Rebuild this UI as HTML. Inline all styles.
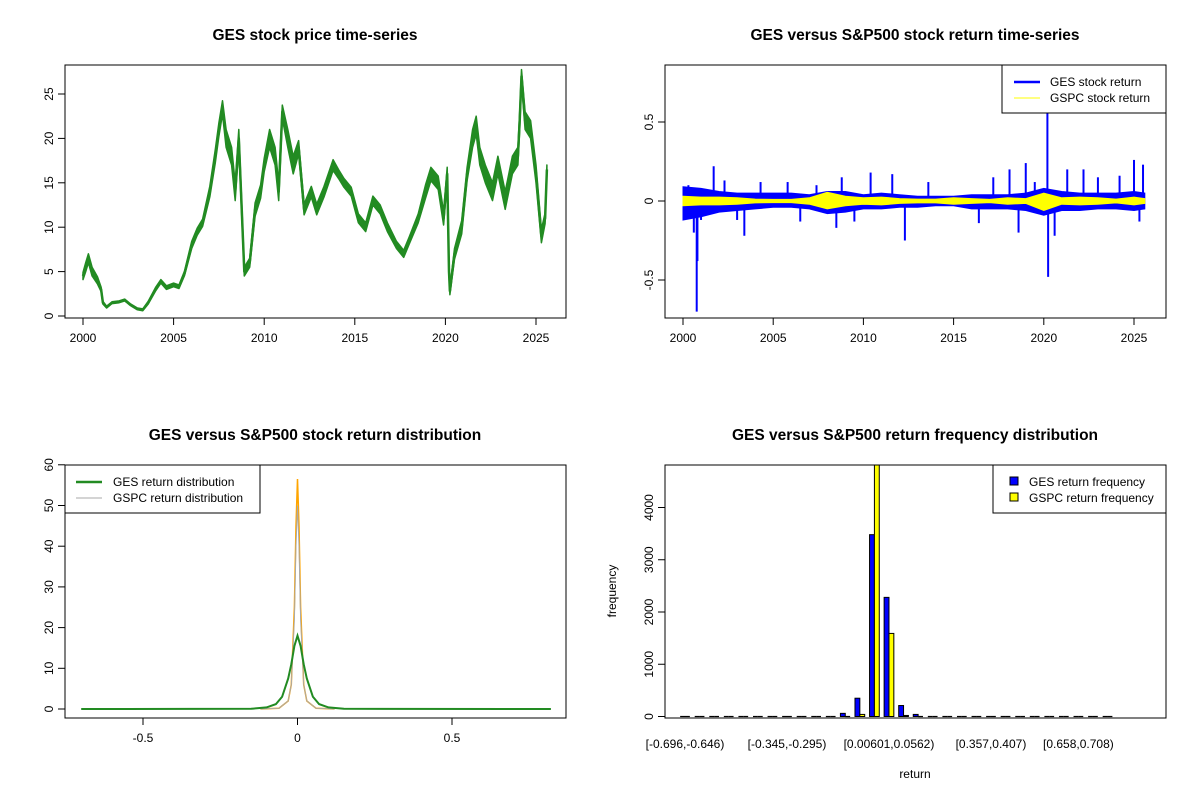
<!DOCTYPE html>
<html><head><meta charset="utf-8"><style>
body{margin:0;background:#fff}
svg{display:block;font-family:"Liberation Sans",Arial,sans-serif}
</style></head><body>
<svg id="c" width="1200" height="800" viewBox="0 0 1200 800"></svg>
<script>
// ---- Panel 1: price ----
const priceYears=[2000.0,2000.15,2000.3,2000.5,2000.8,2001.0,2001.1,2001.3,2001.6,2002,2002.3,2002.6,2003,2003.3,2003.6,2004,2004.3,2004.6,2005,2005.3,2005.6,2006,2006.3,2006.6,2007,2007.3,2007.5,2007.7,2007.9,2008.2,2008.4,2008.6,2008.9,2009.2,2009.5,2009.8,2010,2010.3,2010.6,2010.8,2011,2011.3,2011.6,2011.9,2012.2,2012.6,2012.9,2013.3,2013.8,2014.1,2014.4,2014.8,2015.2,2015.6,2016,2016.4,2016.8,2017.3,2017.7,2018,2018.5,2018.9,2019.2,2019.6,2019.9,2020.1,2020.2,2020.25,2020.5,2020.9,2021.2,2021.5,2021.7,2021.9,2022.2,2022.6,2022.9,2023.3,2023.7,2024.0,2024.1,2024.2,2024.4,2024.7,2025.0,2025.3,2025.5,2025.6];
const priceValues=[4.5,5.5,6.5,5,4,3,1.5,1.0,1.5,1.6,1.8,1.3,0.8,0.7,1.5,3.0,3.9,3.2,3.5,3.3,4.8,8,9.5,10.5,14,18,21,23.5,20,18,14,20,5,6,12,14,17,20,18,14,23,20,17,19,12,14,12,14,17,16,15,14,11,10,13,12,10,8,7,8.5,11,14,16,15,11,16,5,2.8,7,10,16,20,21.5,18,16,14,17,13,17,18,22,27,22,21,16,9,11,16.5];
const priceSwing=[0.8,1,1,1,0.8,0.5,0.3,0.2,0.2,0.2,0.2,0.2,0.2,0.2,0.3,0.4,0.4,0.4,0.4,0.4,0.5,0.8,0.8,0.8,1.2,1.5,1.5,1.5,2,2,2,2,1,1,1.5,1.5,1.5,2,2,2,1.5,2,2,1.5,1.2,1.2,1.2,1.2,1.2,1,1,1,1,1,1,1,1,0.8,0.8,0.8,1,1.5,1.5,1.5,1.5,1.5,1,0.8,1.2,1.5,1.5,2,2,2,2,2,2,2,2,2,2,1.5,2,2,2,1.5,1.2,1];
const priceTicks=[0,5,10,15,20,25];
const yearTicks=[2000,2005,2010,2015,2020,2025];
// ---- Panel 2: returns ----
const envYears=[2000,2001,2002,2003,2004,2005,2006,2007,2008,2009,2010,2011,2012,2013,2014,2015,2016,2017,2018,2019,2020,2021,2022,2023,2024,2025,2025.6];
const gesHigh=[0.09,0.08,0.06,0.05,0.05,0.05,0.05,0.04,0.06,0.06,0.04,0.05,0.04,0.03,0.03,0.03,0.04,0.04,0.04,0.05,0.08,0.06,0.05,0.05,0.05,0.06,0.05];
const gesLow=[-0.12,-0.1,-0.07,-0.06,-0.05,-0.04,-0.04,-0.05,-0.08,-0.07,-0.05,-0.05,-0.04,-0.04,-0.03,-0.03,-0.05,-0.05,-0.05,-0.06,-0.09,-0.06,-0.06,-0.05,-0.05,-0.06,-0.05];
const gspcHigh=[0.03,0.025,0.025,0.02,0.012,0.01,0.01,0.02,0.055,0.03,0.02,0.025,0.015,0.012,0.012,0.02,0.015,0.01,0.02,0.015,0.05,0.02,0.025,0.02,0.012,0.025,0.015];
const gspcLow=[-0.03,-0.025,-0.025,-0.02,-0.012,-0.01,-0.01,-0.02,-0.05,-0.03,-0.02,-0.025,-0.015,-0.012,-0.012,-0.02,-0.015,-0.01,-0.02,-0.015,-0.06,-0.02,-0.025,-0.02,-0.012,-0.025,-0.015];
const spikeYears=[2000.3,2000.6,2000.76,2000.8,2001.0,2001.7,2002.3,2003.0,2003.4,2004.3,2005.8,2006.5,2007.4,2008.5,2008.8,2009.5,2010.4,2011.6,2012.3,2013.6,2016.4,2017.2,2018.1,2018.6,2019.0,2019.5,2020.2,2020.24,2020.6,2021.3,2022.2,2023.0,2024.2,2025.0,2025.3,2025.5];
const spikeValues=[0.1,-0.2,-0.7,-0.38,-0.12,0.22,0.13,-0.12,-0.22,0.12,0.12,-0.13,0.1,-0.17,0.15,-0.13,0.18,0.17,-0.25,0.12,-0.14,0.15,0.2,-0.2,0.24,0.12,0.56,-0.48,-0.22,0.2,0.2,0.15,0.16,0.26,-0.13,0.23];
const retTicks=[-0.5,0,0.5];
// ---- Panel 3: densities ----
const gesDensX=[-0.70,-0.15,-0.1,-0.07,-0.05,-0.03,-0.02,-0.01,0,0.01,0.02,0.03,0.05,0.07,0.1,0.15,0.82];
const gesDensY=[0,0.05,0.4,1.2,3,7.5,11,15.5,18,15.5,11,7.5,3,1.2,0.4,0.05,0];
const gspcDensX=[-0.12,-0.06,-0.03,-0.02,-0.01,-0.005,0,0.005,0.01,0.02,0.03,0.06,0.12];
const gspcDensY=[0,0.2,2,6,25,45,56.5,45,25,6,2,0.2,0];
const gspcGreyY=[0,0.2,2,6,22,40,50,40,22,6,2,0.2,0];
const densXTicks=[-0.5,0,0.5];
const densYTicks=[0,10,20,30,40,50,60];
// ---- Panel 4: histogram ----
const binLabels=["[-0.696,-0.646)","[-0.345,-0.295)","[0.00601,0.0562)","[0.357,0.407)","[0.658,0.708)"];
const binLabelIdx=[0,7,14,21,27];
const gesFreq=[1,0,0,0,0,0,0,0,0,15,15,60,350,3480,2280,210,40,15,15,1,0,0,0,0,0,0,0,0,0,1];
const gspcFreq=[0,0,0,0,0,0,0,0,0,0,0,5,40,5500,1590,20,5,0,0,0,0,0,0,0,0,0,0,0,0,0];
const freqTicks=[0,1000,2000,3000,4000];

const NS="http://www.w3.org/2000/svg";
const svg=document.getElementById('c');
function el(tag,attrs,parent,text){const e=document.createElementNS(NS,tag);for(const k in attrs)e.setAttribute(k,attrs[k]);if(text!==undefined)e.textContent=text;(parent||svg).appendChild(e);return e;}
function lin(d0,d1,r0,r1){return v=>r0+(v-d0)*(r1-r0)/(d1-d0);}
function group(name){const g=el('g',{});return g;}
function box(g,x0,y0,x1,y1){const r=el('rect',{x:x0,y:y0,width:x1-x0,height:y1-y0,fill:'none',stroke:'#000','stroke-width':1},g);}
function title(g,x,y,t){const e=el('text',{x:x,y:y,'text-anchor':'middle','font-size':'15.5','font-weight':'bold'},g,t);}
function xaxis(g,ticks,sx,yb,labels){const a=el('g',{},g);
 el('line',{x1:sx(ticks[0]),x2:sx(ticks[ticks.length-1]),y1:yb,y2:yb,stroke:'#000'},a);
 ticks.forEach((t,i)=>{el('line',{x1:sx(t),x2:sx(t),y1:yb,y2:yb+7,stroke:'#000'},a);const l=el('text',{x:sx(t),y:yb+24,'text-anchor':'middle','font-size':'12'},a,labels?labels[i]:String(t));});}
function yaxis(g,ticks,sy,xl,labels){const a=el('g',{},g);
 el('line',{x1:xl,x2:xl,y1:sy(ticks[0]),y2:sy(ticks[ticks.length-1]),stroke:'#000'},a);
 ticks.forEach((t,i)=>{const y=sy(t);el('line',{x1:xl,x2:xl-7,y1:y,y2:y,stroke:'#000'},a);const l=el('text',{x:xl-12,y:y,'text-anchor':'middle','font-size':'12',transform:`rotate(-90 ${xl-12} ${y})`},a,labels?labels[i]:String(t));});}
function pathOf(xs,ys,sx,sy){return xs.map((x,i)=>(i?'L':'M')+sx(x).toFixed(1)+','+sy(ys[i]).toFixed(1)).join('');}

// Panel 1
(function(){const g=group('price-panel');const sx=lin(2000,2025,83,536),sy=lin(0,25,316,94);
 title(g,315,40,'GES stock price time-series');
 const hi=priceValues.map((v,i)=>v+priceSwing[i]/2),lo=priceValues.map((v,i)=>v-priceSwing[i]/2);
 const bd=pathOf(priceYears,hi,sx,sy)+pathOf(priceYears.slice().reverse(),lo.slice().reverse(),sx,sy).replace('M','L')+'Z';
 const b=el('path',{d:bd,fill:'#228B22',stroke:'#228B22','stroke-width':1.5,'stroke-linejoin':'round'},g);
 
 const p=el('path',{d:pathOf(priceYears,priceValues,sx,sy),fill:'none',stroke:'#228B22','stroke-width':2.5,'stroke-linejoin':'round'},g);
 
 box(g,65,65,566,318);xaxis(g,yearTicks,sx,318);yaxis(g,priceTicks,sy,65);})();

// Panel 2
(function(){const g=group('return-panel');const sx=lin(2000,2025,683,1134),sy=lin(0,0.5,201,122);
 title(g,915,40,'GES versus S&P500 stock return time-series');
 const band=(hi,lo,col,name)=>{const d=pathOf(envYears,hi,sx,sy)+pathOf(envYears.slice().reverse(),lo.slice().reverse(),sx,sy).replace('M','L')+'Z';
  const p=el('path',{d:d,fill:col,stroke:col,'stroke-width':1},g);};
 band(gesHigh,gesLow,'#0000FF','ges-return-band');
 spikeYears.forEach((t,i)=>{const l=el('line',{x1:sx(t),x2:sx(t),y1:sy(0),y2:sy(spikeValues[i]),stroke:'#0000FF','stroke-width':2},g);
  });
 band(gspcHigh,gspcLow,'#FFFF00','gspc-return-band');
 box(g,665,65,1166,318);xaxis(g,yearTicks,sx,318);yaxis(g,retTicks,sy,665);
 const lg=el('g',{},g);
 el('rect',{x:1002,y:65,width:164,height:48,fill:'#fff',stroke:'#000'},lg);
 el('line',{x1:1014,x2:1040,y1:82,y2:82,stroke:'#0000FF','stroke-width':2.5},lg);
 el('line',{x1:1014,x2:1040,y1:98,y2:98,stroke:'#FFFF00','stroke-width':1},lg);
 el('text',{x:1050,y:86,'font-size':'12'},lg,'GES stock return');el('text',{x:1050,y:102,'font-size':'12'},lg,'GSPC stock return');})();

// Panel 3
(function(){const g=group('density-panel');const sx=lin(0,0.5,297.5,452),sy=lin(0,10,709,668.3);
 title(g,315,440,'GES versus S&P500 stock return distribution');
 const a=el('path',{d:pathOf(gspcDensX,gspcDensY,sx,sy),fill:'none',stroke:'#FFA500','stroke-width':1.5},g);
 const b=el('path',{d:pathOf(gspcDensX,gspcGreyY,sx,sy),fill:'none',stroke:'#aaa','stroke-width':1},g);
 const c=el('path',{d:pathOf(gesDensX,gesDensY,sx,sy),fill:'none',stroke:'#228B22','stroke-width':2},g);
 box(g,65,465,566,718);xaxis(g,densXTicks,sx,718);yaxis(g,densYTicks,sy,65);
 const lg=el('g',{},g);
 el('rect',{x:65,y:465,width:195,height:48,fill:'#fff',stroke:'#000'},lg);
 el('line',{x1:76,x2:102,y1:482,y2:482,stroke:'#228B22','stroke-width':2.5},lg);
 el('line',{x1:76,x2:102,y1:498,y2:498,stroke:'#aaa','stroke-width':1},lg);
 el('text',{x:113,y:486,'font-size':'12'},lg,'GES return distribution');el('text',{x:113,y:502,'font-size':'12'},lg,'GSPC return distribution');})();

// Panel 4
(function(){const g=group('histogram-panel');const sy=lin(0,1000,716.5,664.25);const unit=14.57/3;const x0=685-1.5*unit;
 title(g,915,440,'GES versus S&P500 return frequency distribution');
 const yTop=465;
 function bar(x,v,col,name){const top=Math.max(yTop,sy(v));
  if(sy(0)-top<1){const l=el('line',{x1:x,x2:x+unit,y1:sy(0),y2:sy(0),stroke:'#000','stroke-width':1.2},g);return;}
  const r=el('rect',{x:x,y:top,width:unit,height:sy(0)-top,fill:col,stroke:'#000','stroke-width':1},g);
  }
 gesFreq.forEach((v,i)=>{const bx=x0+i*3*unit+unit;
  bar(bx-unit*0.5,v,'#0000FF','ges-freq-bar');
  bar(bx+unit*0.5,gspcFreq[i],'#FFFF00','gspc-freq-bar');});
 box(g,665,465,1166,718);yaxis(g,freqTicks,sy,665);
 binLabelIdx.forEach((k,i)=>{const t=el('text',{x:685+k*3*unit,y:748,'text-anchor':'middle','font-size':'12'},g,binLabels[i]);});
 const xt=el('text',{x:915,y:778,'text-anchor':'middle','font-size':'12'},g,'return');
 const yt=el('text',{x:616,y:591,'text-anchor':'middle','font-size':'12',transform:'rotate(-90 616 591)'},g,'frequency');
 const lg=el('g',{},g);
 el('rect',{x:993,y:465,width:173,height:48,fill:'#fff',stroke:'#000'},lg);
 el('rect',{x:1010,y:477,width:8,height:8,fill:'#0000FF',stroke:'#000'},lg);
 el('rect',{x:1010,y:493,width:8,height:8,fill:'#FFFF00',stroke:'#000'},lg);
 el('text',{x:1029,y:486,'font-size':'12'},lg,'GES return frequency');el('text',{x:1029,y:502,'font-size':'12'},lg,'GSPC return frequency');})();
</script>
</body></html>
